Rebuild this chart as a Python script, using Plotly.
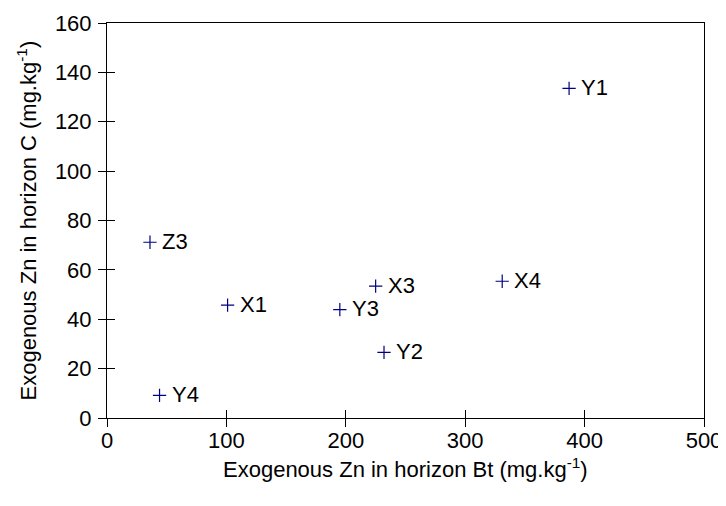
import plotly.graph_objects as go

labels = ["Y1", "Z3", "X1", "Y3", "X3", "Y2", "X4", "Y4"]
zn_bt = [387, 36, 101, 195, 225, 232, 331, 44]
zn_c = [133.5, 71.2, 45.7, 43.9, 53.4, 26.6, 55.4, 9.2]

x_ticks = [0, 100, 200, 300, 400, 500]
y_ticks = [0, 20, 40, 60, 80, 100, 120, 140, 160]

x_title = "Exogenous Zn in horizon Bt (mg.kg<sup>-1</sup>)"
y_title = "Exogenous Zn in horizon C (mg.kg<sup>-1</sup>)"

FONT = "Liberation Sans, Arial, sans-serif"
FS = 22

fig = go.Figure()
fig.add_trace(go.Scatter(
    x=zn_bt, y=zn_c, mode="markers",
    marker=dict(symbol="cross-thin", size=9.5, line=dict(color="#000080", width=1.2), color="#000080"),
    showlegend=False, cliponaxis=False,
))
fig.add_trace(go.Scatter(x=[0], y=[0], xaxis="x2", yaxis="y2", mode="markers",
                         marker=dict(size=1, opacity=0), showlegend=False, hoverinfo="skip"))

for lx, ly, lt in zip(zn_bt, zn_c, labels):
    fig.add_annotation(x=lx, y=ly, text=lt, showarrow=False, xanchor="left", yanchor="middle",
                       xshift=10, yshift=1, font=dict(family=FONT, size=FS, color="black"))

# axis titles
fig.add_annotation(xref="paper", yref="paper", x=0.5, y=0, yshift=-50, xanchor="center",
                   yanchor="middle", text=x_title, showarrow=False,
                   font=dict(family=FONT, size=FS, color="black"))
fig.add_annotation(xref="paper", yref="paper", x=0, y=0.5, xshift=-81, xanchor="center",
                   yanchor="middle", textangle=-90, text=y_title, showarrow=False,
                   font=dict(family=FONT, size=FS, color="black"))

common = dict(showgrid=False, zeroline=False, linecolor="black", linewidth=1, automargin=False,
              tickfont=dict(family=FONT, size=FS, color="black"))

fig.update_layout(
    width=726, height=506,
    margin=dict(l=99, r=30, t=15, b=95.5),
    paper_bgcolor="white", plot_bgcolor="white",
    font=dict(family=FONT, size=FS, color="black"),
    xaxis=dict(range=[0, 500], tickvals=x_ticks, ticks="outside", ticklen=8, tickcolor="black",
               mirror=True, showline=True, ticklabelstandoff=-5, **common),
    yaxis=dict(range=[0, 160], tickvals=y_ticks, ticks="outside", ticklen=8, tickcolor="black",
               mirror=True, showline=True, ticklabelstandoff=2, **common),
    xaxis2=dict(range=[0, 500], tickvals=x_ticks, ticks="inside", ticklen=8, tickcolor="black",
                overlaying="x", side="bottom", showticklabels=False, showgrid=False,
                zeroline=False, showline=False),
    yaxis2=dict(range=[0, 160], tickvals=y_ticks, ticks="inside", ticklen=8, tickcolor="black",
                overlaying="y", side="left", showticklabels=False, showgrid=False,
                zeroline=False, showline=False),
)

fig.write_html("out.html")
